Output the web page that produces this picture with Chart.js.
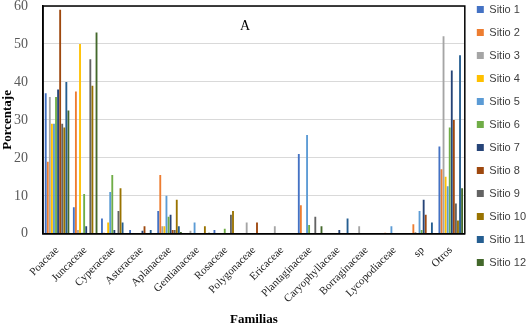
<!DOCTYPE html>
<html>
<head>
<meta charset="utf-8">
<script src="https://cdn.jsdelivr.net/npm/chart.js@4.4.1/dist/chart.umd.min.js"></script>
<style>
  html, body { margin: 0; padding: 0; background: #fff; }
  #wrap { width: 526px; height: 329px; }
</style>
</head>
<body>
<div id="wrap"><canvas id="chart" width="526" height="329"></canvas></div>
<script>
// Familias (eje X)
const familias = ["Poaceae", "Juncaceae", "Cyperaceae", "Asteraceae", "Aplanaceae", "Gentianaceae",
  "Rosaceae", "Polygonaceae", "Ericaceae", "Plantaginaceae", "Caryophyllaceae", "Borraginaceae",
  "Lycopodiaceae", "sp", "Otros"];

// Porcentaje por sitio, en el orden de familias
const sitio1  = [37, 7, 4, 1, 6, 0, 1, 0, 0, 21, 0, 0, 0, 0, 23];
const sitio2  = [19, 37.5, 0.3, 0, 15.5, 0, 0, 0, 0, 7.5, 0, 0, 0.3, 2.5, 17];
const sitio3  = [36, 1, 0, 0, 2, 0.8, 0, 3, 2, 0, 0, 2, 0, 0.5, 52];
const sitio4  = [29, 50, 3, 0, 2, 0, 0, 0, 0, 0, 0, 0, 0, 0, 15];
const sitio5  = [29, 0.3, 11, 0, 10, 3, 0, 0, 0, 26, 0, 0, 2, 6, 12.5];
const sitio6  = [36, 10.5, 15.5, 0, 4.5, 0, 1.3, 0, 0, 2.3, 0, 0, 0, 1, 28];
const sitio7  = [38, 2, 1, 0.8, 5, 0, 0, 0, 0, 0, 1, 0, 0, 9, 43];
const sitio8  = [59, 0, 0, 2, 1, 0, 0, 3, 0, 0, 0, 0, 0, 5, 30];
const sitio9  = [29, 46, 6, 0, 1, 0, 5, 0, 0, 4.5, 0, 0, 0, 0, 8];
const sitio10 = [28, 39, 12, 0, 9, 2, 6, 0, 0, 0, 0, 0, 0, 0, 3.5];
const sitio11 = [40, 0, 3, 1, 2, 0, 0, 0, 0, 0, 4, 0, 0, 3, 47];
const sitio12 = [32.5, 53, 0, 0, 0.5, 0.3, 0, 0, 0, 2, 0, 0, 0, 0, 12];

const sitios = [sitio1, sitio2, sitio3, sitio4, sitio5, sitio6, sitio7, sitio8, sitio9, sitio10, sitio11, sitio12];
const colores = ["#4472C4", "#ED7D31", "#A5A5A5", "#FFC000", "#5B9BD5", "#70AD47",
  "#264478", "#9E480E", "#636363", "#997300", "#255E91", "#43682B"];

const yTicks = [0, 10, 20, 30, 40, 50, 60];

const serif = "'Liberation Serif', 'Times New Roman', serif";

// marco negro del área de trazado, letra del panel y leyenda pegada arriba
const frameAndPanel = {
  id: "frameAndPanel",
  beforeDraw(chart) {
    const lg = chart.legend;
    const h = lg.bottom - lg.top;
    lg.top = -8;
    lg.bottom = lg.top + h;
  },
  afterDraw(chart) {
    const { ctx, chartArea: a } = chart;
    ctx.save();
    ctx.strokeStyle = "#000";
    ctx.lineWidth = 1.5;
    ctx.strokeRect(a.left, a.top, a.right - a.left, a.bottom - a.top);
    ctx.fillStyle = "#000";
    ctx.font = "14px " + serif;
    ctx.textAlign = "center";
    ctx.textBaseline = "middle";
    ctx.fillText("A", 245, 26);
    ctx.restore();
  }
};

const datasets = sitios.map((valores, i) => ({
  label: "Sitio " + (i + 1),
  data: valores,
  backgroundColor: colores[i],
  borderWidth: 0,
  categoryPercentage: 0.88,
  barPercentage: 0.9
}));

new Chart(document.getElementById("chart"), {
  type: "bar",
  data: { labels: familias, datasets: datasets },
  plugins: [frameAndPanel],
  options: {
    responsive: false,
    animation: false,
    layout: { padding: { top: 6, left: 0, right: -10, bottom: 2 } },
    plugins: {
      tooltip: { enabled: false },
      legend: {
        position: "right",
        align: "start",
        labels: {
          boxWidth: 7,
          boxHeight: 7,
          padding: 12,
          color: "#404040",
          font: { family: "'Liberation Sans', Arial, sans-serif", size: 11 }
        }
      }
    },
    scales: {
      x: {
        grid: { display: false },
        border: { color: "#000", width: 1.5 },
        ticks: {
          autoSkip: false,
          minRotation: 45,
          maxRotation: 45,
          padding: 2,
          color: "#222",
          font: { family: serif, size: 11 }
        },
        title: {
          display: true,
          text: "Familias",
          color: "#000",
          padding: { top: 4, bottom: 0 },
          font: { family: serif, size: 13, weight: "bold" }
        }
      },
      y: {
        min: 0,
        max: 60,
        afterBuildTicks(scale) {
          scale.ticks = yTicks.map(v => ({ value: v }));
        },
        afterFit(scale) {
          scale.width = 43;
          scale.paddingTop = 0;
          scale.paddingBottom = 0;
        },
        grid: { color: "#d9d9d9", drawTicks: false },
        border: { color: "#000", width: 1.5 },
        ticks: {
          padding: 15,
          color: "#595959",
          font: { family: serif, size: 14 }
        },
        title: {
          display: true,
          text: "Porcentaje",
          color: "#000",
          padding: { top: 0, bottom: 2 },
          font: { family: serif, size: 13, weight: "bold" }
        }
      }
    }
  }
});
</script>
</body>
</html>
